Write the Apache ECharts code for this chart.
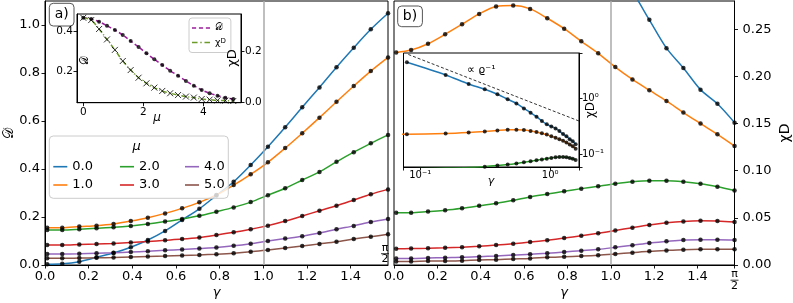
<!DOCTYPE html>
<html><head><meta charset="utf-8">
<script src="https://cdn.jsdelivr.net/npm/echarts@6/dist/echarts.min.js"></script>
<style>html,body{margin:0;padding:0;background:#fff}#c{width:793px;height:303px}</style>
</head><body><div id="c"></div>
<script>
// ---------------- data ----------------
const gamma = [0.01,0.079,0.157,0.236,0.314,0.393,0.471,0.550,0.628,0.707,0.785,0.864,0.942,1.021,1.100,1.178,1.257,1.335,1.414,1.492,1.571];
const muLabels = ['0.0','1.0','2.0','3.0','4.0','5.0'];
const colors = ['#1f77b4','#ff7f0e','#2ca02c','#d62728','#9467bd','#8c564b'];

// panel a: D vs gamma
const D_mu0 = [0.003,0.005,0.014,0.032,0.050,0.074,0.104,0.142,0.188,0.234,0.290,0.347,0.417,0.493,0.574,0.657,0.740,0.824,0.905,0.982,1.049];
const D_mu1 = [0.155,0.155,0.160,0.164,0.171,0.183,0.197,0.215,0.236,0.261,0.292,0.333,0.378,0.428,0.487,0.549,0.614,0.680,0.746,0.808,0.865];
const D_mu2 = [0.146,0.146,0.149,0.153,0.157,0.163,0.171,0.181,0.192,0.205,0.222,0.240,0.262,0.291,0.320,0.354,0.388,0.430,0.470,0.507,0.542];
const D_mu3 = [0.083,0.083,0.085,0.087,0.090,0.094,0.098,0.103,0.108,0.115,0.125,0.136,0.149,0.164,0.183,0.204,0.226,0.247,0.271,0.295,0.315];
const D_mu4 = [0.046,0.046,0.047,0.049,0.051,0.054,0.057,0.061,0.065,0.069,0.073,0.080,0.089,0.100,0.110,0.120,0.133,0.149,0.163,0.179,0.192];
const D_mu5 = [0.028,0.028,0.029,0.030,0.031,0.033,0.035,0.037,0.040,0.042,0.045,0.049,0.055,0.063,0.071,0.079,0.088,0.097,0.108,0.118,0.128];

// panel b: chi_D vs gamma
const X_mu0 = [null,4.39,2.61,1.80,1.45,1.18,0.96,0.81,0.66,0.553,0.469,0.393,0.343,0.315,0.290,0.260,0.230,0.209,0.186,0.171,0.151];
const X_mu1 = [0.2255,0.228,0.2347,0.2447,0.2553,0.2663,0.2741,0.2751,0.2716,0.2617,0.2506,0.2372,0.2245,0.2099,0.1968,0.1854,0.174,0.1617,0.150,0.1386,0.1262];
const X_mu2 = [0.0553,0.0553,0.0567,0.0581,0.0602,0.0628,0.0655,0.0687,0.0722,0.0752,0.0782,0.0810,0.0836,0.0862,0.0883,0.0894,0.0894,0.0883,0.0862,0.0830,0.0790];
const X_mu3 = [0.0172,0.0174,0.0177,0.0182,0.0189,0.0199,0.0211,0.0226,0.0243,0.0263,0.0286,0.0310,0.0336,0.0366,0.0396,0.0424,0.0447,0.0462,0.0468,0.0466,0.0455];
const X_mu4 = [0.0070,0.0070,0.0074,0.0078,0.0081,0.0088,0.0096,0.0106,0.0113,0.0124,0.0138,0.0152,0.0166,0.0187,0.0209,0.0234,0.0251,0.0266,0.0269,0.0269,0.0266];
const X_mu5 = [0.0038,0.0038,0.0042,0.0042,0.0046,0.0053,0.0057,0.0064,0.0070,0.0081,0.0088,0.0095,0.0104,0.0117,0.0131,0.0145,0.0155,0.0163,0.0166,0.0166,0.0166];

// inset a: D and chi_D vs mu
const muVals = [0,0.263,0.526,0.789,1.053,1.316,1.579,1.842,2.105,2.368,2.632,2.895,3.158,3.421,3.684,3.947,4.211,4.474,4.737,5.0];
const insetD = [0.470,0.4635,0.450,0.430,0.4085,0.3835,0.3535,0.3235,0.292,0.262,0.2335,0.205,0.180,0.1535,0.130,0.1085,0.092,0.080,0.070,0.0635];
const insetChi = [0.333,0.324,0.289,0.248,0.207,0.1635,0.128,0.098,0.076,0.059,0.046,0.037,0.030,0.024,0.020,0.0145,0.012,0.009,0.008,0.0067];

// inset b reference line (proportional to rho^-1)
const refX = [0.0811,1.667];
const refY = [6.06,0.393];

// tick labels
const ticksA_x = [0,0.2,0.4,0.6,0.8,1.0,1.2,1.4];
const ticksA_y = [0,0.2,0.4,0.6,0.8,1.0];
const ticksB_y = [0,0.05,0.10,0.15,0.20,0.25];
const ticksIa_x = [0,2,4];
const ticksIa_yl = [0.2,0.4];
const ticksIa_yr = [0.0,0.2];

// ---------------- chart ----------------
const FF = "'DejaVu Sans', sans-serif";
const HALF_PI = Math.PI/2;
const Dser = [D_mu0,D_mu1,D_mu2,D_mu3,D_mu4,D_mu5];
const Xser = [X_mu0,X_mu1,X_mu2,X_mu3,X_mu4,X_mu5];
const pts = (xs, ys) => xs.map((x,i)=>[x, ys[i]]).filter(p=>p[1]!=null);

function axis(o){
  const lab = {color:'#000', fontFamily:FF, fontSize:o.fs||13, margin:o.margin==null?5:o.margin, formatter:o.fmt, showMinLabel:true, showMaxLabel:true};
  if (o.labels) lab.customValues = o.labels;
  const tick = {show:true, inside:false, length:3.5, lineStyle:{color:'#000', width:0.9}};
  if (o.ticks) tick.customValues = o.ticks;
  const a = {type:o.type||'value', gridIndex:o.grid, position:o.position, min:o.min, max:o.max,
    splitLine:{show:false}, axisLine:{show:true, onZero:false, lineStyle:{color:'#000', width:1}},
    axisTick:tick, axisLabel:lab, zlevel:o.zlevel||0, z:o.z||3};
  if (o.type==='log') { a.logBase = 10; a.minorTick = {show:false}; }
  return a;
}
const sup = e => e===0 ? '10⁰' : (e===-1 ? '10⁻¹' : '10^'+e);
const logFmt = v => { const l = Math.log10(v), e = Math.round(l); return Math.abs(l-e)<0.02 ? sup(e) : ''; };

const series = [];
const vline = {silent:true, symbol:['none','none'], label:{show:false}, lineStyle:{color:'#aaaaaa', width:1.5, type:'solid'}, data:[{xAxis:1}]};
for (let i=0;i<6;i++){
  series.push({type:'line', name:muLabels[i], xAxisIndex:0, yAxisIndex:0, data:pts(gamma,Dser[i]), smooth:0.3, symbol:'none', color:colors[i], lineStyle:{width:1.5, color:colors[i]}, z:2, markLine: i===0?vline:undefined});
  series.push({type:'line', name:muLabels[i], xAxisIndex:1, yAxisIndex:1, data:pts(gamma,Xser[i]), smooth:0.3, symbol:'none', color:colors[i], lineStyle:{width:1.5, color:colors[i]}, z:2, markLine: i===0?vline:undefined});
}
for (let i=0;i<6;i++){
  series.push({type:'scatter', name:'pa'+i, xAxisIndex:0, yAxisIndex:0, data:pts(gamma,Dser[i]), symbolSize:4.5, itemStyle:{color:'#000'}, z:3});
  series.push({type:'scatter', name:'pb'+i, xAxisIndex:1, yAxisIndex:1, data:pts(gamma,Xser[i]), symbolSize:4.5, itemStyle:{color:'#000'}, z:3});
}
// inset b (log-log)
for (let i=0;i<3;i++){
  series.push({type:'line', name:'ib'+i, xAxisIndex:3, yAxisIndex:4, data:pts(gamma,Xser[i]), smooth:0.3, symbol:'none', lineStyle:{width:1.5, color:colors[i]}, color:colors[i], zlevel:1, z:4});
}
for (let i=0;i<3;i++){
  series.push({type:'scatter', name:'ibs'+i, xAxisIndex:3, yAxisIndex:4, data:pts(gamma,Xser[i]), symbolSize:4, itemStyle:{color:'#000'}, zlevel:1, z:5});
}
series.push({type:'line', name:'ref', xAxisIndex:3, yAxisIndex:4, data:pts(refX,refY), symbol:'none', lineStyle:{width:0.8, color:'#000', type:[3,2]}, zlevel:1, z:5});
// inset a
const PURPLE = '#9b1f9b', OLIVE = '#6e9a2a';
series.push({type:'line', name:'𝒟', xAxisIndex:2, yAxisIndex:2, data:pts(muVals,insetD), smooth:0.3, symbol:'none', color:PURPLE, lineStyle:{width:1.5, color:PURPLE, type:[4,2.5]}, zlevel:1, z:4});
series.push({type:'line', name:'chiD', xAxisIndex:2, yAxisIndex:3, data:pts(muVals,insetChi), smooth:0.3, symbol:'none', color:OLIVE, lineStyle:{width:1.5, color:OLIVE, type:[5,2,1,2]}, zlevel:1, z:4});
series.push({type:'scatter', name:'iad', xAxisIndex:2, yAxisIndex:2, data:pts(muVals,insetD), symbolSize:4, itemStyle:{color:'#000'}, zlevel:1, z:5});
series.push({type:'scatter', name:'iax', xAxisIndex:2, yAxisIndex:3, data:pts(muVals,insetChi), symbol:'path://M0,0L10,10M10,0L0,10', symbolSize:6, itemStyle:{color:'none', borderColor:'#000', borderWidth:1}, zlevel:1, z:5});

const legendCommon = {orient:'vertical', itemWidth:14, itemHeight:1.6, icon:'rect', itemGap:3.3, padding:0,
  textStyle:{fontFamily:FF, fontSize:13, color:'#000', lineHeight:15}, z:8, selectedMode:false};

const option = {
  animation:false,
  backgroundColor:'#fff',
  textStyle:{fontFamily:FF},
  grid:[
    {left:45, top:1, width:343, height:264, show:true, borderColor:'#000', borderWidth:1, backgroundColor:'transparent'},
    {left:394, top:1, width:340.5, height:264, show:true, borderColor:'#000', borderWidth:1, backgroundColor:'transparent'},
    {left:77, top:14, width:164, height:88.7, show:true, borderColor:'#000', borderWidth:1, backgroundColor:'#fff', zlevel:1, z:1},
    {left:403.5, top:53, width:175.5, height:114, show:true, borderColor:'#000', borderWidth:1, backgroundColor:'#fff', zlevel:1, z:1}
  ],
  xAxis:[
    axis({grid:0, position:'bottom', min:0, max:HALF_PI, labels:ticksA_x, ticks:ticksA_x, fmt:v=>v.toFixed(1)}),
    axis({grid:1, position:'bottom', min:0, max:HALF_PI, labels:ticksA_x, ticks:ticksA_x.concat([HALF_PI]), fmt:v=>v.toFixed(1)}),
    axis({grid:2, position:'bottom', min:-0.21, max:5.257, labels:ticksIa_x, ticks:ticksIa_x, fmt:v=>String(v), fs:10.5, margin:4, zlevel:1}),
    axis({grid:3, position:'bottom', type:'log', min:0.0744, max:1.667, fmt:logFmt, fs:10, margin:3, zlevel:1})
  ],
  yAxis:[
    axis({grid:0, position:'left', min:0, max:1.1, labels:ticksA_y, ticks:ticksA_y, fmt:v=>v.toFixed(1)}),
    axis({grid:1, position:'right', min:0, max:0.28, labels:ticksB_y, ticks:ticksB_y, fmt:v=>v.toFixed(2), margin:8}),
    axis({grid:2, position:'left', min:0.045, max:0.4885, labels:ticksIa_yl, ticks:ticksIa_yl, fmt:v=>v.toFixed(1), fs:10.5, margin:4, zlevel:1}),
    axis({grid:2, position:'right', min:0, max:0.3478, labels:ticksIa_yr, ticks:ticksIa_yr, fmt:v=>v.toFixed(1), fs:10.5, margin:4, zlevel:1}),
    axis({grid:3, position:'right', type:'log', min:0.0593, max:6.44, fmt:logFmt, fs:10, margin:3, zlevel:1})
  ],
  legend:[
    Object.assign({left:53.3, top:159.2, data:['0.0','1.0']}, legendCommon),
    Object.assign({left:120, top:159.2, data:['2.0','3.0']}, legendCommon),
    Object.assign({left:185, top:159.2, data:['4.0','5.0']}, legendCommon),
    {left:189, top:18, orient:'vertical', padding:[5,5,5,3], itemGap:4.5, itemWidth:18, itemHeight:1.6,
     backgroundColor:'#fff', borderColor:'#cccccc', borderWidth:1, borderRadius:3, zlevel:1, z:8, selectedMode:false,
     textStyle:{fontFamily:FF, fontSize:9.5, color:'#000', rich:{a:{fontSize:9.5, fontFamily:FF}, s:{fontSize:7, fontFamily:FF, verticalAlign:'top', lineHeight:7}}},
     formatter: n => n==='chiD' ? '{a|χ}{s|D}' : n,
     data:[
       {name:'𝒟', icon:'path://M0,0h3v1h-3zM5,0h3v1h-3zM10,0h3v1h-3z'},
       {name:'chiD', icon:'path://M0,0h4v1h-4zM6,0h1v1h-1zM9,0h4v1h-4z'}
     ]}
  ],
  series:series
};

const chart = echarts.init(document.getElementById('c'), null, {renderer:'canvas', width:793, height:303});
chart.setOption(option);

// text / decorations positioned relative to axes
const pa = chart.convertToPixel({gridIndex:0}, [HALF_PI, 0]);
const pb = chart.convertToPixel({gridIndex:1}, [HALF_PI, 0]);
function txt(x,y,text,size,opts){
  opts = opts||{};
  return {type:'text', x:x, y:y, rotation:opts.rot||0, z:opts.z||20, zlevel:opts.zlevel||0,
    style:{text:text, fill:'#000', font:(opts.italic?'italic ':'')+size+'px '+FF, align:opts.align||'center', verticalAlign:'middle'}};
}
function frac(cx, cy){ // pi over 2
  return [
    txt(cx, cy, 'π', 11),
    {type:'line', z:20, shape:{x1:cx-4, y1:cy+5.7, x2:cx+4, y2:cy+5.7}, style:{stroke:'#000', lineWidth:0.8}},
    txt(cx, cy+11.5, '2', 11)
  ];
}
const g = [];
// legend box (panel a)
g.push({type:'rect', z:6, shape:{x:49.3, y:136, width:179, height:62.3, r:4}, style:{fill:'rgba(255,255,255,0.8)', stroke:'#cccccc', lineWidth:1}});
g.push(txt(136.7, 147, 'μ', 13, {italic:true, z:9}));
// panel labels
g.push({type:'rect', z:20, shape:{x:49.3, y:3.3, width:24.7, height:22.7, r:4}, style:{fill:'#fff', stroke:'#555', lineWidth:1}});
g.push(txt(61.7, 14.8, 'a)', 14));
g.push({type:'rect', z:20, shape:{x:397.7, y:6, width:24.7, height:20.7, r:4}, style:{fill:'#fff', stroke:'#555', lineWidth:1}});
g.push(txt(410, 16.5, 'b)', 14));
// pi/2 tick labels
frac(pa[0]-3, pa[1]-17).forEach(e=>g.push(e));
frac(pb[0], pb[1]+9.5).forEach(e=>g.push(e));
// axis titles
g.push(txt(216.5, 293, 'γ', 13, {italic:true}));
g.push(txt(564, 293, 'γ', 13, {italic:true}));
g.push(txt(9, 133, '𝒟', 14, {rot:Math.PI/2}));
g.push(txt(785, 133, 'χD', 14, {rot:Math.PI/2}));
// inset a titles
g.push(txt(157, 118, 'μ', 12, {italic:true, zlevel:1}));
g.push(txt(85, 60, '𝒟', 11, {rot:Math.PI/2, zlevel:1}));
g.push(txt(233, 58, 'χD', 13, {rot:Math.PI/2, zlevel:1}));
// inset b titles
g.push(txt(491, 181, 'γ', 11, {italic:true, zlevel:1}));
g.push(txt(591, 110, 'χD', 12, {rot:Math.PI/2, zlevel:1}));
g.push(txt(467, 70, '∝ ϱ⁻¹', 11, {align:'left', zlevel:1}));
chart.setOption({graphic:{elements:g}});
</script>
</body></html>
